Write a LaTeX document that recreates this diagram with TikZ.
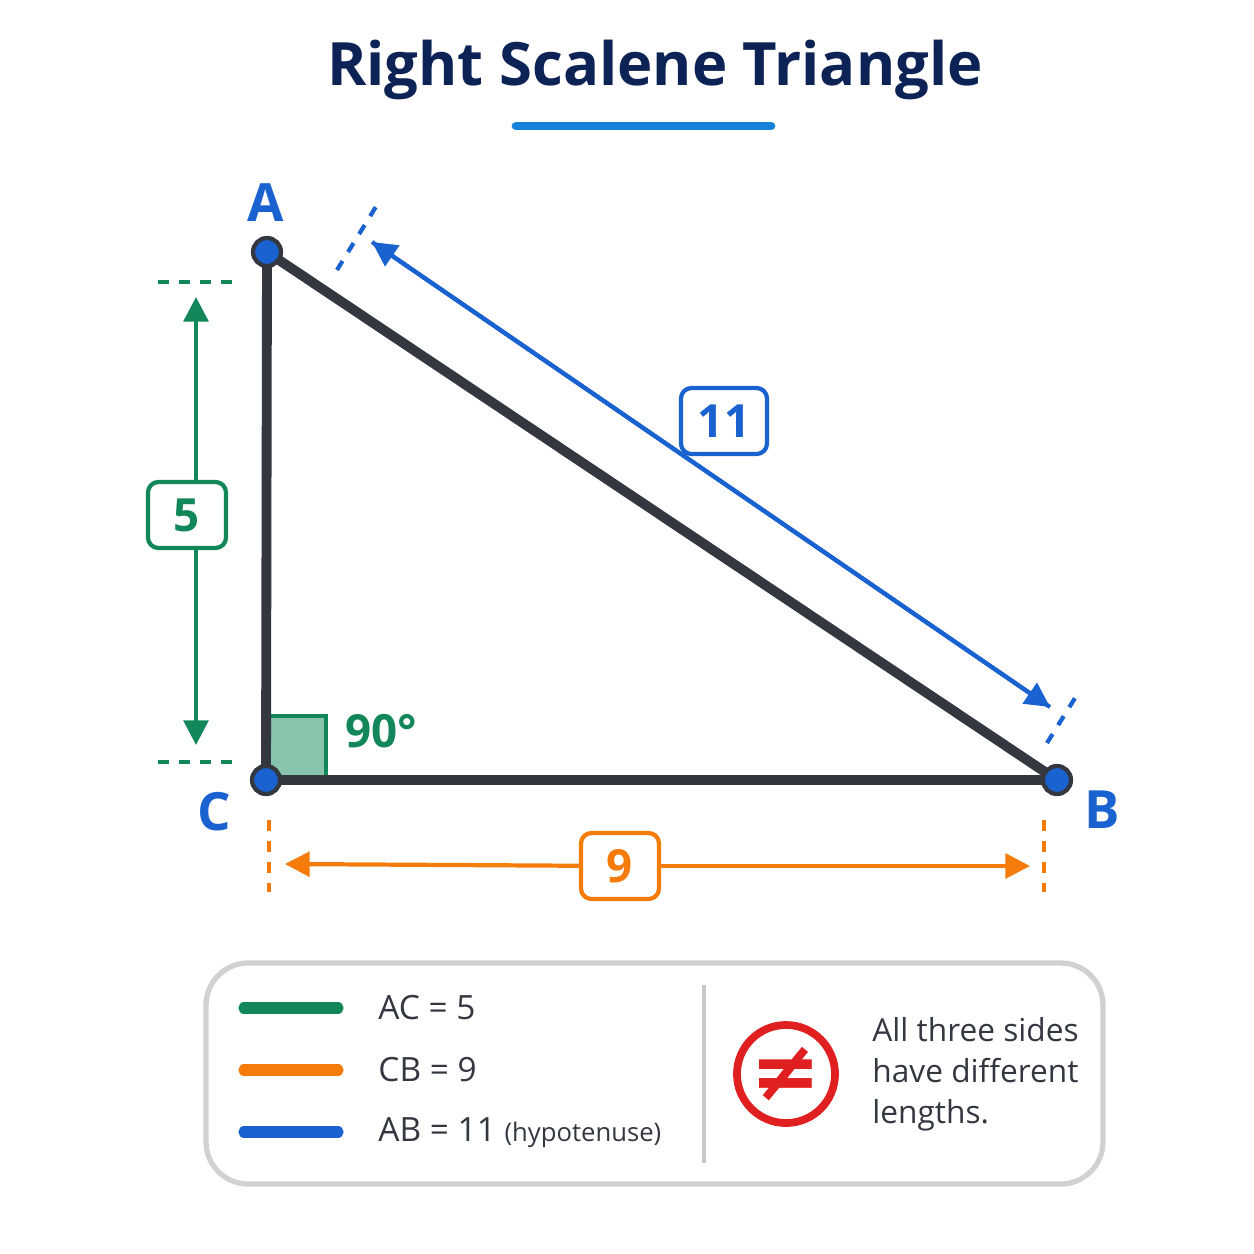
\documentclass[tikz,border=0pt]{standalone}
\usepackage{fontspec}
\setmainfont{Open Sans}
\newfontfamily\djv{DejaVu Sans}
\usetikzlibrary{arrows.meta}
\definecolor{navy}{HTML}{0D2356}
\definecolor{bl}{HTML}{1A62D0}
\definecolor{gr}{HTML}{12875A}
\definecolor{orr}{HTML}{F57C0A}
\definecolor{dk}{HTML}{33373F}
\definecolor{rd}{HTML}{E02020}
\tikzset{
 vert/.style={circle,fill=bl,draw=dk,line width=1.2pt,minimum size=0.28cm,inner sep=0},
 vlab/.style={text=bl,font=\fontsize{15}{15}\selectfont\bfseries},
 dbox/.style={draw=#1,text=#1,fill=white,rounded corners=3pt,line width=1.2pt,minimum width=0.78cm,minimum height=0.66cm,font=\fontsize{13}{13}\selectfont\bfseries},
 dim/.style={draw=#1,line width=1.2pt,-{Triangle[length=7pt,width=7pt]}},
 tick/.style={draw=#1,line width=1.2pt,dash pattern=on 3pt off 3pt},
 leg/.style={line width=3.2pt,line cap=round},
 ltxt/.style={anchor=west,text=dk,font=\fontsize{9.5}{9.5}\selectfont}
}
\begin{document}
\begin{tikzpicture}[x=0.01cm,y=-0.01cm]
\useasboundingbox (0,0) rectangle (1254,1254);
\node[text=navy,font=\fontsize{17}{17}\selectfont\bfseries] (title) at (655,70) {Right Scalene Triangle};
\draw[draw=bl!80!cyan,line width=2.5pt,line cap=round] (516,126) coordinate (u1) -- (771,126) coordinate (u2);
% right angle
\draw[draw=gr,fill=gr!50,line width=1.2pt] (268,716) rectangle (326,778);
\node[text=gr,font=\fontsize{13}{13}\selectfont\bfseries] (ang) at (381,731) {90°};
% triangle
\coordinate (A) at (267,252); \coordinate (C) at (266,780); \coordinate (B) at (1057,780);
\draw[draw=dk,line width=2.8pt,line join=round] (A) -- (B) -- (C) -- cycle;
\node[vert] (vA) at (A) {}; \node[vert] (vB) at (B) {}; \node[vert] (vC) at (C) {};
\node[vlab] (lA) at (266,203) {A};
\node[vlab] (lB) at (1102,810) {B};
\node[vlab] (lC) at (214,812) {C};
% green
\draw[tick=gr] (158,282) coordinate (g1) -- (233,282) coordinate (g2);
\draw[tick=gr] (158,762) coordinate (g3) -- (233,762) coordinate (g4);
\coordinate (gt) at (196,297); \coordinate (gb) at (196,745);
\node[dbox=gr] (n5) at (187,515) {5};
\draw[dim=gr] (gt |- n5.north) -- (gt);
\draw[dim=gr] (gb |- n5.south) -- (gb);
% orange
\draw[tick=orr] (269,820) coordinate (o1) -- (269,892) coordinate (o2);
\draw[tick=orr] (1044,820) coordinate (o3) -- (1044,892) coordinate (o4);
\coordinate (ol) at (285,864); \coordinate (or) at (1030,866);
\node[dbox=orr] (n9) at (620,866) {9};
\draw[dim=orr] (n9) -- (ol);
\draw[dim=orr] (n9) -- (or);
% blue
\draw[tick=bl] (337,270) coordinate (b1) -- (377,205) coordinate (b2);
\draw[tick=bl] (1047,743) coordinate (b3) -- (1080,690) coordinate (b4);
\coordinate (bt) at (372,242); \coordinate (bb) at (1050,707);
\draw[dim=bl] (bb) -- (bt);
\draw[dim=bl] (bt) -- (bb);
\node[dbox=bl,minimum width=0.86cm] (n11) at (724,421) {11};
% legend
\draw[draw=black!18,line width=1.5pt,rounded corners=12pt] (206,963) coordinate (L1) rectangle (1103,1184) coordinate (L2);
\draw[leg,draw=gr] (244,1008) coordinate (l1a) -- (338,1008) coordinate (l1b);
\draw[leg,draw=orr] (244,1070) coordinate (l2a) -- (338,1070) coordinate (l2b);
\draw[leg,draw=bl] (244,1132) coordinate (l3a) -- (338,1132) coordinate (l3b);
\node[ltxt] (t1) at (366,1008) {AC = 5};
\node[ltxt] (t2) at (366,1070) {CB = 9};
\node[ltxt] (t3) at (366,1133) {AB = 11 {\fontsize{7.3}{7.3}\selectfont(hypotenuse)}};
\draw[draw=black!22,line width=1.2pt] (704,985) coordinate (d1) -- (704,1163) coordinate (d2);
\node[circle,draw=rd,line width=2.2pt,minimum size=0.98cm,inner sep=0,text=rd,font=\djv\bfseries\fontsize{24}{24}\selectfont] (ne) at (786,1074) {≠};
\node[ltxt,align=left,font=\fontsize{9}{11.6}\selectfont] (t4) at (860,1074) {All three sides\\have different\\lengths.};
\end{tikzpicture}
\end{document}
